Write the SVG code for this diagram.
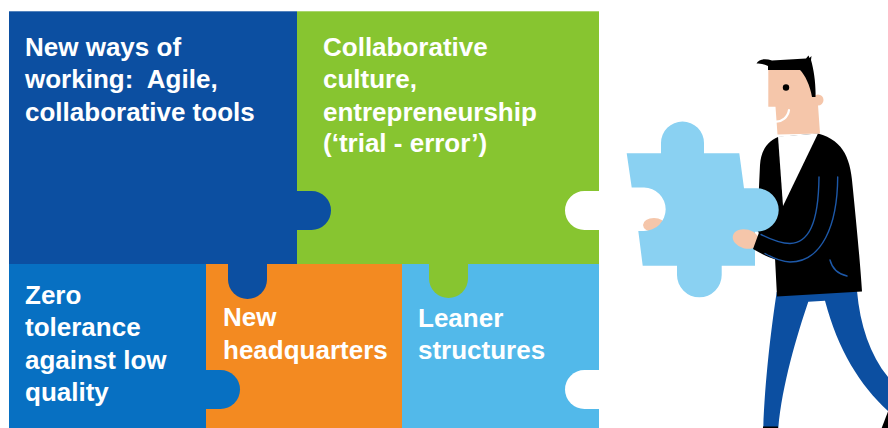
<svg xmlns="http://www.w3.org/2000/svg" width="888" height="428" viewBox="0 0 888 428">
  <style>
    .label { font-family: "Liberation Sans", Arial, sans-serif; font-weight: bold; font-size: 26px; fill: #ffffff; }
    .line { fill: none; stroke: #1d58a8; stroke-width: 1.4; stroke-linecap: round; }
    .skin { fill: #f5c6aa; }
    .ink { fill: #000000; }
  </style>
  <rect width="888" height="428" fill="#ffffff"/>

  <!-- puzzle base tiles -->
  <g id="piece-ways-of-working">
    <rect x="9" y="11.3" width="288" height="252.7" fill="#0c4fa1"/>
  </g>
  <g id="piece-collaborative-culture">
    <rect x="297" y="11.3" width="302" height="252.7" fill="#87c530"/>
  </g>
  <g id="piece-zero-tolerance">
    <rect x="9" y="264" width="197" height="164" fill="#0770c2"/>
  </g>
  <g id="piece-headquarters">
    <rect x="206" y="264" width="196" height="164" fill="#f38a21"/>
  </g>
  <g id="piece-leaner-structures">
    <rect x="402" y="264" width="197" height="164" fill="#52b9ea"/>
  </g>

  <!-- interlocking tabs and empty sockets -->
  <g id="tabs">
    <path d="M296,191 H311.5 A19.5,19.5 0 0 1 311.5,230 H296 Z" fill="#0c4fa1"/>
    <path d="M228,263 V279.5 A19.5,19.5 0 0 0 267,279.5 V263 Z" fill="#0c4fa1"/>
    <path d="M429,263 V278.5 A19.5,19.5 0 0 0 468,278.5 V263 Z" fill="#87c530"/>
    <path d="M205,370 H220.5 A19.5,19.5 0 0 1 220.5,409 H205 Z" fill="#0770c2"/>
    <path d="M600,191 H584.5 A19.5,19.5 0 0 0 584.5,230 H600 Z" fill="#ffffff"/>
    <path d="M600,370 H584.5 A19.5,19.5 0 0 0 584.5,409 H600 Z" fill="#ffffff"/>
  </g>

  <!-- labels -->
  <g id="text-ways-of-working">
    <text class="label" x="25" y="55.5">New ways of</text>
    <text class="label" x="25" y="88" xml:space="preserve">working:  Agile,</text>
    <text class="label" x="25" y="120.5">collaborative tools</text>
  </g>
  <g id="text-collaborative-culture">
    <text class="label" x="323" y="55.5">Collaborative</text>
    <text class="label" x="323" y="88">culture,</text>
    <text class="label" x="323" y="120.5">entrepreneurship</text>
    <text class="label" x="323" y="152">(‘trial - error’)</text>
  </g>
  <g id="text-zero-tolerance">
    <text class="label" x="25" y="303.5">Zero</text>
    <text class="label" x="25" y="336">tolerance</text>
    <text class="label" x="25" y="368.5">against low</text>
    <text class="label" x="25" y="400.5">quality</text>
  </g>
  <g id="text-headquarters">
    <text class="label" x="223" y="326">New</text>
    <text class="label" x="223" y="359">headquarters</text>
  </g>
  <g id="text-leaner-structures">
    <text class="label" x="418" y="326.5">Leaner</text>
    <text class="label" x="418" y="359">structures</text>
  </g>

  <!-- figure carrying the missing piece -->
  <g id="person">
    <!-- trousers -->
    <path d="M776.7,292 L857,291 C860,325 870,355 888,377 L888,411 C860,385 838,350 825,300.7 L808.3,301.7 C797,335 782,385 778.3,428 L763.3,428 C765,380 771,330 776.7,292 Z" fill="#0c4fa1"/>
    <path class="ink" d="M881.7,428 L888,411.5 L888,428 Z"/>
    <rect class="ink" x="763" y="426.5" width="15" height="2"/>

    <!-- jacket -->
    <path class="ink" d="M778,137 C768,141 761,150 760,165 L757,230 L775,258 L777,296.5 L862,291.5 C860,260 856,220 853,190 C851,160 845,141 818,133.5 Z"/>
    <!-- shirt -->
    <path d="M778,136.5 L818,133.5 L783,206 Z" fill="#ffffff"/>

    <!-- head -->
    <path class="skin" d="M768.3,70 L800,70 C807,75 812,85 815,97 L818,105 L820,133.5 L777.5,134.5 L775.5,106.7 L768.3,106.7 Z"/>
    <circle class="skin" cx="818" cy="100" r="5.5"/>
    <path class="ink" d="M756.5,63.5 C759,59 765,58 772,60.5 L806,58.5 L808.5,55.5 L809.5,58 L811.5,56 L811,60 C814,70 816,85 815.5,97 L812,97 C810,85 805,75 800,70 L768,70 L768,66 C764,64 760,63.5 756.5,63.5 Z"/>
    <circle class="ink" cx="786" cy="87.5" r="3.2"/>
    <path d="M775.5,121.5 C782,122 788,117 789,110" fill="none" stroke="#ffffff" stroke-width="2.2" stroke-linecap="round"/>

    <!-- thumb behind the piece -->
    <ellipse class="skin" cx="654" cy="225" rx="11" ry="7"/>

    <!-- held puzzle piece -->
    <path d="M626.7,153.3 L661,153.3 L661,143 A21.5,21.5 0 0 1 704,143 L704,153.3 L739.3,153.3 L744,188.3 L757,188.3 A21.7,21.7 0 0 1 757,231.7 L755,231.7 L755,265.7 L721.7,265.7 L721.7,275 A22.35,22.35 0 0 1 677,275 L677,265.7 L642.7,265.7 L638.3,231 L644,231 A21.7,21.7 0 0 0 644,187.6 L631.7,187.6 Z" fill="#8ad1f2"/>

    <!-- hand and sleeve -->
    <ellipse class="skin" cx="746" cy="239" rx="13.5" ry="9.5" transform="rotate(15 746 239)"/>
    <path class="ink" d="M753,249 L759,232.5 C770,238 781,243.5 790,243.5 C808,243 818.5,225 819,177 L838,177 C838,225 822,262 790,262 C778,262 765,256 753,249 Z"/>
    <path class="line" d="M761,234.5 C772,240 781,243.5 790,243.5 C808,243 818.5,225 819,177"/>
    <path class="line" d="M765,253.5 C773,258 781,262 790,262 C822,262 837.5,225 837.7,177"/>
    <path class="line" d="M830,260 C832,268 838,274 847,276"/>
  </g>
</svg>
